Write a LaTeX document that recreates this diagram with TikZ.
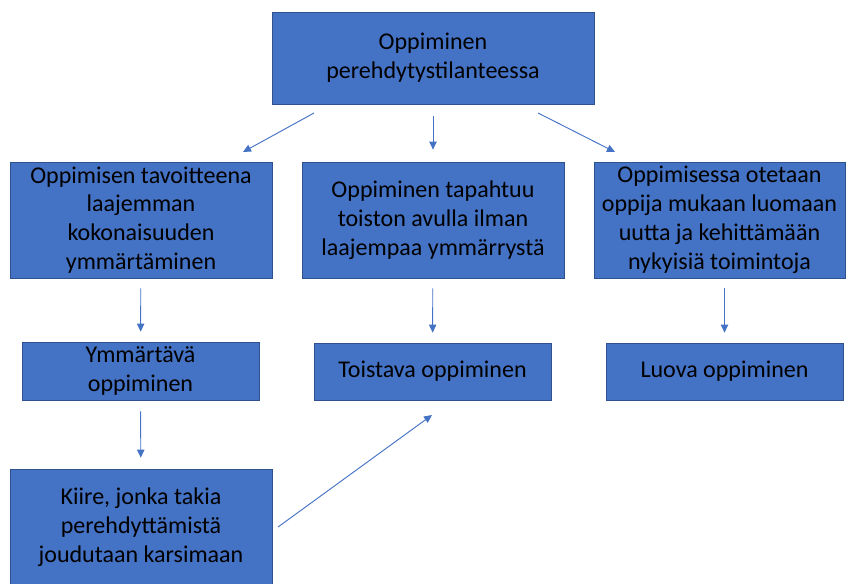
\documentclass[tikz,border=0pt]{standalone}
\usepackage{fontspec}
\setmainfont{Carlito}
\usetikzlibrary{arrows.meta}

\begin{document}
\begin{tikzpicture}[x=0.03cm, y=-0.03cm]

  \definecolor{boxblue}{RGB}{68, 114, 196}
  \definecolor{boxedge}{RGB}{47, 82, 143}

  \tikzset{
    box/.style={draw=boxedge, line width=0.6pt, fill=boxblue, align=center,
      inner sep=0pt, text=black, font=\fontsize{20.5}{24.6}\selectfont},
    link/.style={draw=boxblue, line width=0.8pt,
      -{Triangle[length=0.24cm, width=0.22cm]}}
  }

  \useasboundingbox (0, 0) rectangle (846, 583);

  % Top box
  \node[box, minimum width=9.66cm, minimum height=2.76cm] (top) at (433, 58)
    {Oppiminen\\perehdytystilanteessa};

  % Middle row
  \node[box, minimum width=7.86cm, minimum height=3.48cm] (tavoite) at (141, 220)
    {Oppimisen tavoitteena\\laajemman\\kokonaisuuden\\ymmärtäminen};
  \node[box, minimum width=7.86cm, minimum height=3.48cm] (toisto) at (433, 220)
    {Oppiminen tapahtuu\\toiston avulla ilman\\laajempaa ymmärrystä};
  \node[box, minimum width=7.53cm, minimum height=3.48cm] (luominen) at (719.5, 220)
    {Oppimisessa otetaan\\oppija mukaan luomaan\\uutta ja kehittämään\\nykyisiä toimintoja};

  % Learning types
  \node[box, minimum width=7.11cm, minimum height=1.74cm] (ymmartava) at (140.5, 371)
    {Ymmärtävä\\oppiminen};
  \node[box, minimum width=7.11cm, minimum height=1.71cm] (toistava) at (432.5, 371.5)
    {Toistava oppiminen};
  \node[box, minimum width=7.11cm, minimum height=1.71cm] (luova) at (724.5, 371.5)
    {Luova oppiminen};

  % Bottom box
  \node[box, minimum width=7.86cm, minimum height=3.48cm] (kiire) at (141, 527)
    {Kiire, jonka takia\\perehdyttämistä\\joudutaan karsimaan};

  % Free arrow ends
  \coordinate (topL) at (314, 113);
  \coordinate (tavoiteN) at (243, 152);
  \coordinate (topR) at (538, 113);
  \coordinate (luominenN) at (615, 152);
  \coordinate (kiireE) at (278, 527);
  \coordinate (toistavaS) at (432, 415);

  % Arrows
  \draw[link] (topL) -- (tavoiteN);
  \draw[link, shorten <=0.36cm, shorten >=0.36cm] (top) -- (toisto);
  \draw[link] (topR) -- (luominenN);
  \draw[link, shorten <=0.3cm, shorten >=0.3cm] (tavoite) -- (ymmartava);
  \draw[link, shorten <=0.3cm, shorten >=0.3cm] (toisto) -- (toistava);
  \draw[link, shorten <=0.3cm, shorten >=0.3cm] (luominen.south -| luova.north) -- (luova.north);
  \draw[link, shorten <=0.33cm, shorten >=0.33cm] (ymmartava) -- (kiire);
  \draw[link] (kiireE) -- (toistavaS);

\end{tikzpicture}
\end{document}
